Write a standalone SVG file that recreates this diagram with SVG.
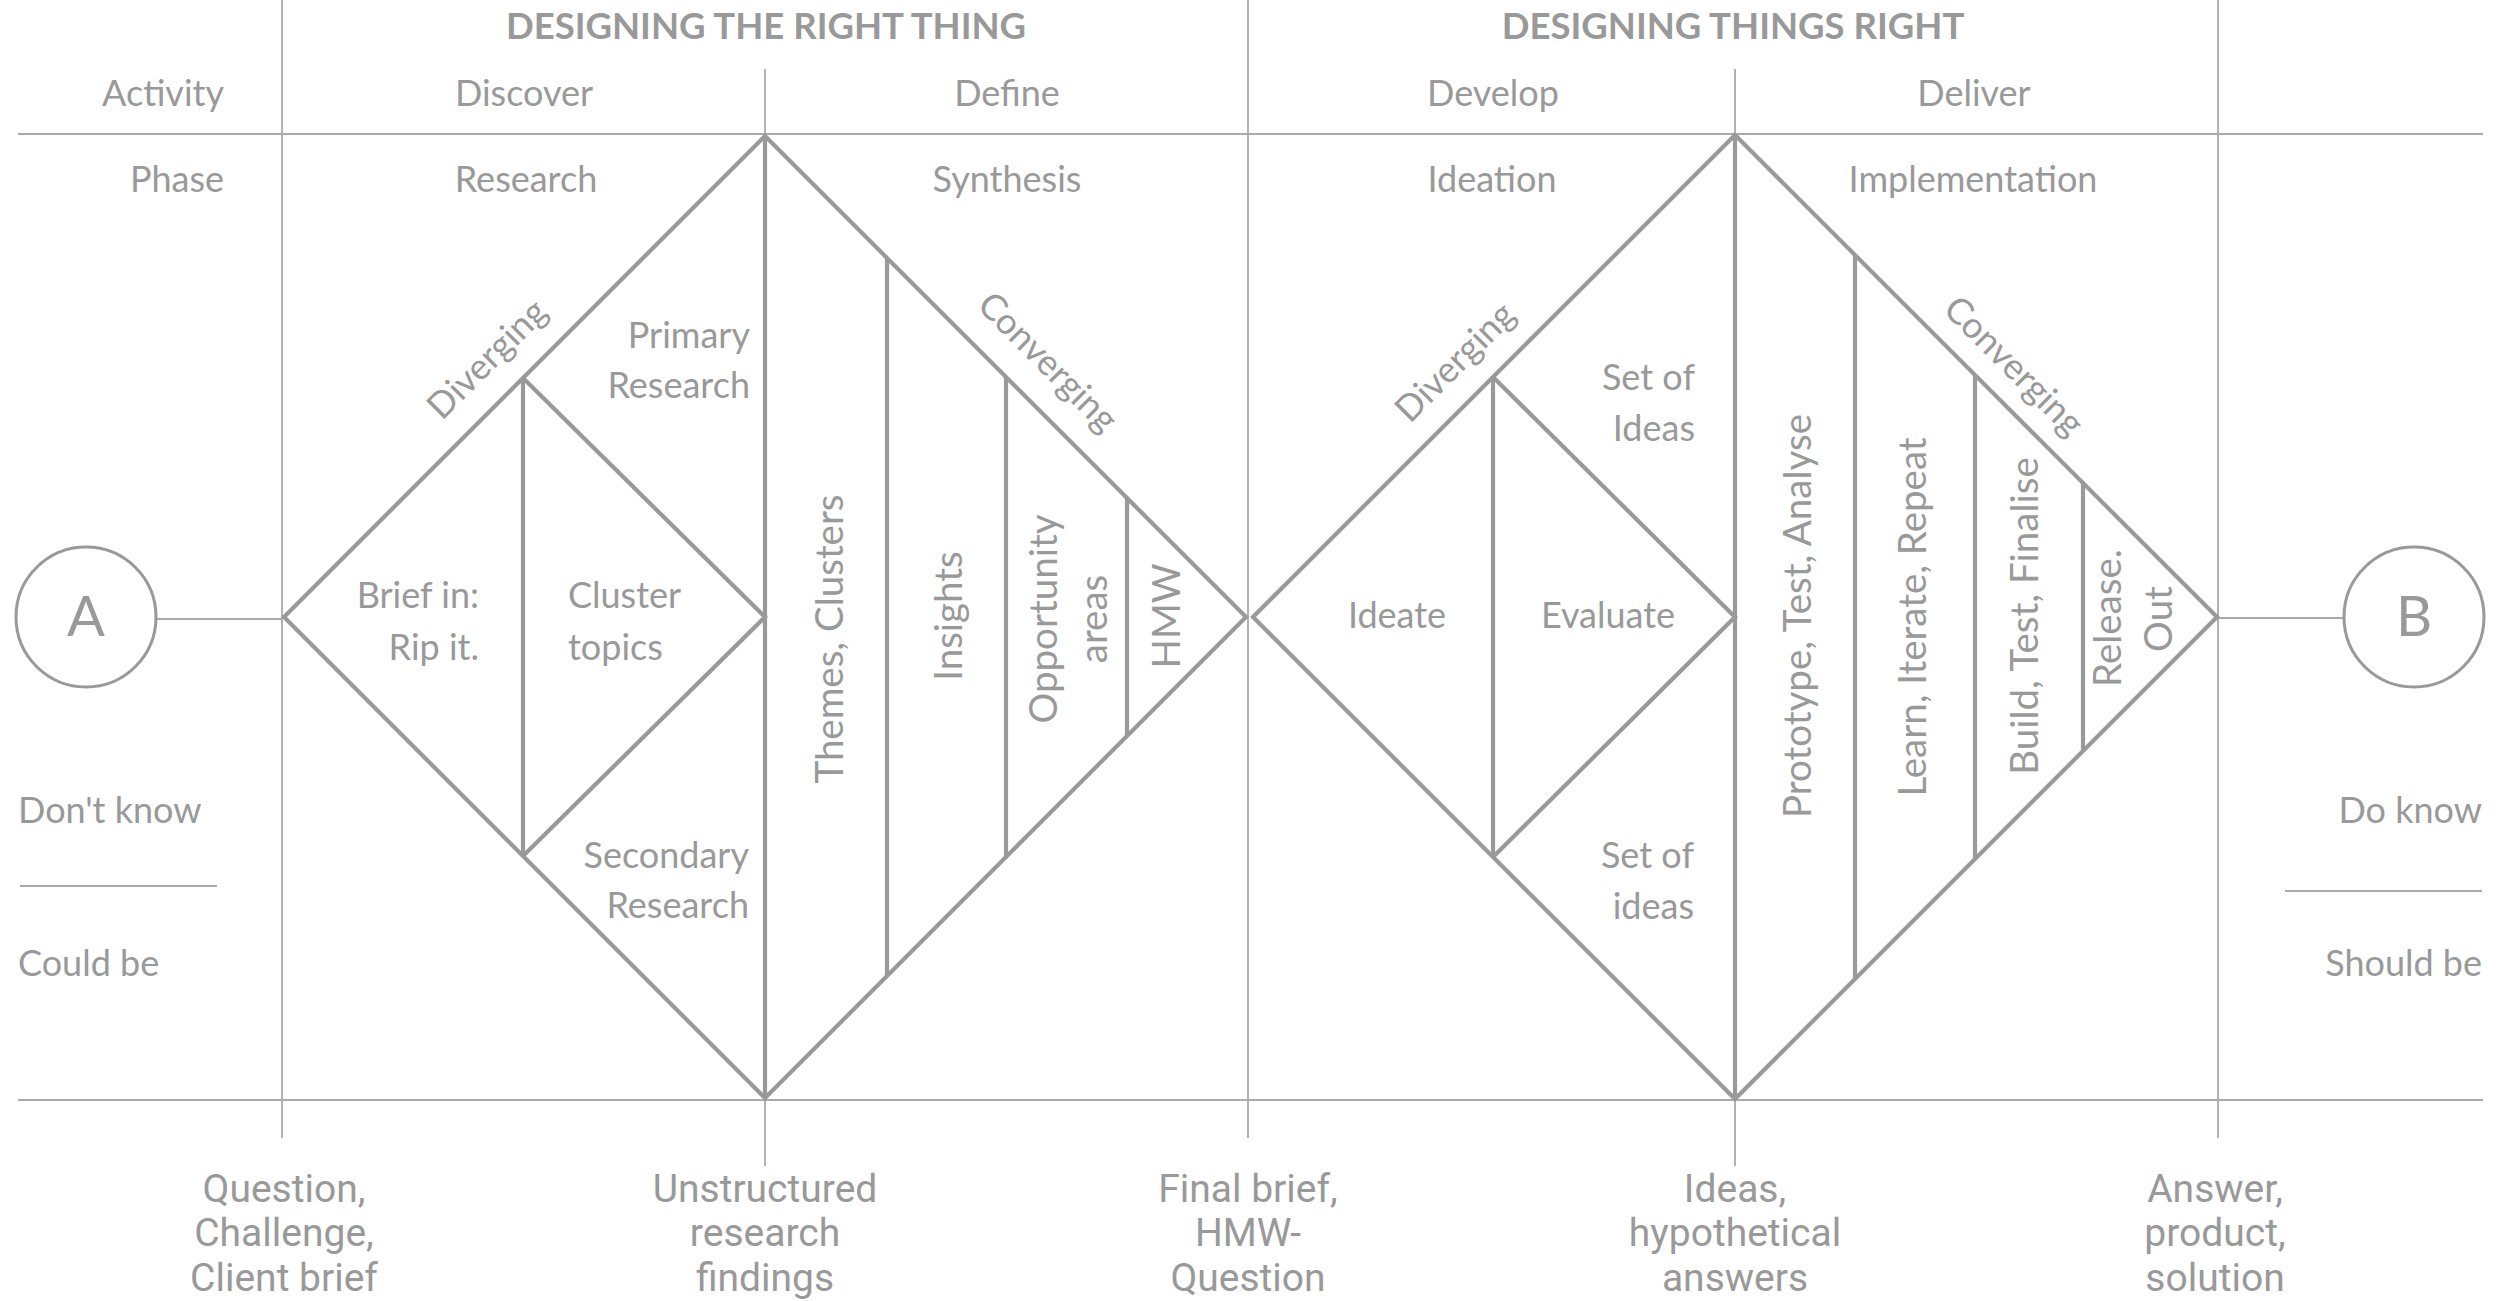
<svg xmlns="http://www.w3.org/2000/svg" width="2500" height="1301" viewBox="0 0 2500 1301">
<style>
  .bg{fill:#ffffff}
  .thin{stroke:#aaaaaa;stroke-width:1.8;fill:none}
  .thick{stroke:#999999;stroke-width:4.2;fill:none;stroke-linejoin:miter}
  .circ{stroke:#999999;stroke-width:3;fill:#ffffff}
  text{font-family:Lato,"Noto Sans","Liberation Sans",sans-serif;fill:#999999;font-size:36px}
  .hd{font-weight:bold;font-size:36.5px}
  .rot{font-size:38.5px}
  .big{font-size:56px}
  .out{font-family:Roboto,"Liberation Sans",sans-serif;font-size:39px;text-anchor:middle}
  .m{text-anchor:middle}
  .e{text-anchor:end}
</style>
<rect class="bg" x="0" y="0" width="2500" height="1301"/>

<g id="connectors">
  <line class="thin" x1="18" y1="134" x2="2483" y2="134"/>
  <line class="thin" x1="18" y1="1100" x2="2483" y2="1100"/>
  <line class="thin" x1="282" y1="0" x2="282" y2="1138"/>
  <line class="thin" x1="765" y1="69" x2="765" y2="136"/>
  <line class="thin" x1="765" y1="1098" x2="765" y2="1166"/>
  <line class="thin" x1="1248" y1="0" x2="1248" y2="1138"/>
  <line class="thin" x1="1735" y1="69" x2="1735" y2="135"/>
  <line class="thin" x1="1735" y1="1099" x2="1735" y2="1166"/>
  <line class="thin" x1="2218" y1="0" x2="2218" y2="1138"/>
  <line class="thin" x1="156" y1="619" x2="282" y2="619"/>
  <line class="thin" x1="2218" y1="618" x2="2344" y2="618"/>
  <line class="thin" x1="20" y1="886" x2="217" y2="886"/>
  <line class="thin" x1="2285" y1="891" x2="2482" y2="891"/>
</g>

<g id="header">
  <text class="hd m" x="766" y="39">DESIGNING THE RIGHT THING</text>
  <text class="hd m" x="1733" y="39">DESIGNING THINGS RIGHT</text>
  <text class="e" x="224" y="106">Activity</text>
  <text class="m" x="524" y="106">Discover</text>
  <text class="m" x="1007" y="106">Define</text>
  <text class="m" x="1493" y="106">Develop</text>
  <text class="m" x="1974" y="106">Deliver</text>
  <text class="e" x="224" y="192">Phase</text>
  <text class="m" x="526" y="192">Research</text>
  <text class="m" x="1007" y="192">Synthesis</text>
  <text class="m" x="1492" y="192">Ideation</text>
  <text class="m" x="1973" y="192">Implementation</text>
</g>

<g id="node-a">
  <circle class="circ" cx="86" cy="617" r="70"/>
  <text class="big m" x="86" y="636">A</text>
</g>
<g id="node-b">
  <circle class="circ" cx="2414" cy="617" r="70"/>
  <text class="big m" x="2414" y="636">B</text>
</g>

<g id="side-labels">
  <text x="18" y="823">Don't know</text>
  <text x="18" y="976">Could be</text>
  <text class="e" x="2482" y="823">Do know</text>
  <text class="e" x="2482" y="976">Should be</text>
</g>

<g id="diamond-1">
  <polygon class="thick" points="284,617 765,136 1246,617 765,1098"/>
  <line class="thick" x1="765" y1="136" x2="765" y2="1098"/>
  <line class="thick" x1="523" y1="378" x2="523" y2="856"/>
  <polyline class="thick" points="523,378 765,617 523,856"/>
  <line class="thick" x1="887" y1="258" x2="887" y2="976"/>
  <line class="thick" x1="1006" y1="377" x2="1006" y2="857"/>
  <line class="thick" x1="1127" y1="498" x2="1127" y2="736"/>
  <text class="m" transform="translate(489,361) rotate(-45)" dy="0.26em">Diverging</text>
  <text class="m" transform="translate(1046,364) rotate(45)" dy="0.26em">Converging</text>
  <text class="e" x="750" y="348">Primary</text>
  <text class="e" x="750" y="398">Research</text>
  <text class="e" x="479" y="608">Brief in:</text>
  <text class="e" x="479" y="660">Rip it.</text>
  <text x="568" y="608">Cluster</text>
  <text x="568" y="660">topics</text>
  <text class="e" x="749" y="868">Secondary</text>
  <text class="e" x="749" y="918">Research</text>
  <text class="rot m" transform="translate(843,639) rotate(-90)">Themes, Clusters</text>
  <text class="rot m" transform="translate(962,616) rotate(-90)">Insights</text>
  <text class="rot m" transform="translate(1057,619) rotate(-90)">Opportunity</text>
  <text class="rot m" transform="translate(1107,619) rotate(-90)">areas</text>
  <text class="rot m" transform="translate(1180,616) rotate(-90)">HMW</text>
</g>

<g id="diamond-2">
  <polygon class="thick" points="1253,617 1735,135 2217,617 1735,1099"/>
  <line class="thick" x1="1735" y1="135" x2="1735" y2="1099"/>
  <line class="thick" x1="1493" y1="377" x2="1493" y2="857"/>
  <polyline class="thick" points="1493,377 1735,617 1493,857"/>
  <line class="thick" x1="1855" y1="255" x2="1855" y2="979"/>
  <line class="thick" x1="1975" y1="375" x2="1975" y2="859"/>
  <line class="thick" x1="2083" y1="483" x2="2083" y2="751"/>
  <text class="m" transform="translate(1457,364) rotate(-45)" dy="0.26em">Diverging</text>
  <text class="m" transform="translate(2012,368) rotate(45)" dy="0.26em">Converging</text>
  <text class="e" x="1695" y="390">Set of</text>
  <text class="e" x="1695" y="441">Ideas</text>
  <text class="m" x="1397" y="628">Ideate</text>
  <text class="m" x="1608" y="628">Evaluate</text>
  <text class="e" x="1694" y="868">Set of</text>
  <text class="e" x="1694" y="919">ideas</text>
  <text class="rot m" transform="translate(1811,616) rotate(-90)">Prototype, Test, Analyse</text>
  <text class="rot m" transform="translate(1926,617) rotate(-90)">Learn, Iterate, Repeat</text>
  <text class="rot m" transform="translate(2038,616) rotate(-90)">Build, Test, Finalise</text>
  <text class="rot m" transform="translate(2121,618) rotate(-90)">Release.</text>
  <text class="rot m" transform="translate(2172,619) rotate(-90)">Out</text>
</g>

<g id="outputs">
  <g id="out-1">
    <text class="out" x="284" y="1202">Question,</text>
    <text class="out" x="284" y="1246">Challenge,</text>
    <text class="out" x="284" y="1291">Client brief</text>
  </g>
  <g id="out-2">
    <text class="out" x="765" y="1202">Unstructured</text>
    <text class="out" x="765" y="1246">research</text>
    <text class="out" x="765" y="1291">findings</text>
  </g>
  <g id="out-3">
    <text class="out" x="1248" y="1202">Final brief,</text>
    <text class="out" x="1248" y="1246">HMW-</text>
    <text class="out" x="1248" y="1291">Question</text>
  </g>
  <g id="out-4">
    <text class="out" x="1735" y="1202">Ideas,</text>
    <text class="out" x="1735" y="1246">hypothetical</text>
    <text class="out" x="1735" y="1291">answers</text>
  </g>
  <g id="out-5">
    <text class="out" x="2215" y="1202">Answer,</text>
    <text class="out" x="2215" y="1246">product,</text>
    <text class="out" x="2215" y="1291">solution</text>
  </g>
</g>
</svg>
